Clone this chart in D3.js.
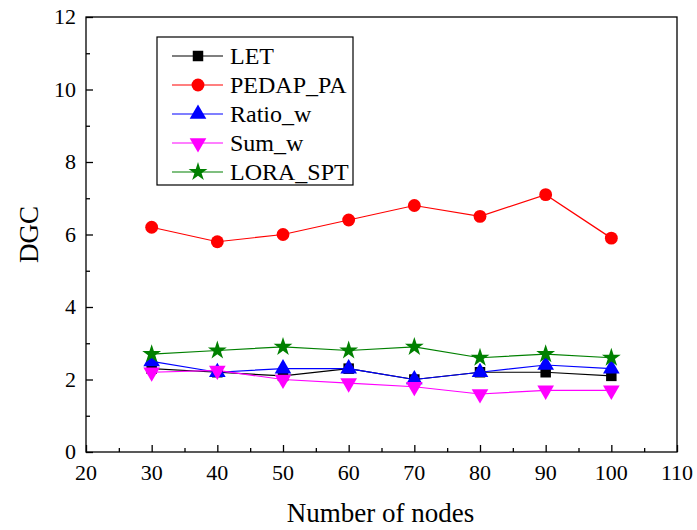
<!DOCTYPE html>
<html>
<head>
<meta charset="utf-8">
<script src="https://cdn.jsdelivr.net/npm/d3@7"></script>
<style>
body { margin: 0; background: #fff; }
text { font-family: "Liberation Serif", "Times New Roman", serif; fill: #000; }
</style>
</head>
<body>
<div id="chart"></div>
<script>
var nodes = [30, 40, 50, 60, 70, 80, 90, 100];
var LET = [2.3, 2.2, 2.1, 2.3, 2.0, 2.2, 2.2, 2.1];
var PEDAP_PA = [6.2, 5.8, 6.0, 6.4, 6.8, 6.5, 7.1, 5.9];
var Ratio_w = [2.5, 2.2, 2.3, 2.3, 2.0, 2.2, 2.4, 2.3];
var Sum_w = [2.2, 2.25, 2.0, 1.9, 1.8, 1.6, 1.7, 1.7];
var LORA_SPT = [2.7, 2.8, 2.9, 2.8, 2.9, 2.6, 2.7, 2.6];
var xTicks = [20, 30, 40, 50, 60, 70, 80, 90, 100, 110];
var yTicks = [0, 2, 4, 6, 8, 10, 12];

var series = [
  {name: "LET", values: LET, color: "#000000", marker: "square"},
  {name: "PEDAP_PA", values: PEDAP_PA, color: "#ff0000", marker: "circle"},
  {name: "Ratio_w", values: Ratio_w, color: "#0000ff", marker: "up"},
  {name: "Sum_w", values: Sum_w, color: "#ff00ff", marker: "down"},
  {name: "LORA_SPT", values: LORA_SPT, color: "#008000", marker: "star"}
];

var width = 697, height = 530;
var pLeft = 86, pRight = 677, pTop = 17, pBottom = 452;

var svg = d3.select("#chart").append("svg")
  .attr("width", width)
  .attr("height", height);

var x = d3.scaleLinear().domain([20, 110]).range([pLeft, pRight]);
var y = d3.scaleLinear().domain([0, 12]).range([pBottom, pTop]);

// frame
svg.append("rect")
  .attr("x", pLeft).attr("y", pTop)
  .attr("width", pRight - pLeft).attr("height", pBottom - pTop)
  .attr("fill", "none").attr("stroke", "#000").attr("stroke-width", 1.3);

// x axis, ticks pointing inside
var xAxis = d3.axisTop(x).tickValues(xTicks).tickSize(7).tickFormat("");
svg.append("g").attr("transform", "translate(0," + pBottom + ")").call(xAxis)
  .call(function(g) { g.select(".domain").remove(); g.selectAll("line").attr("stroke-width", 1.3); });
var xMinor = d3.axisTop(x).tickValues(d3.range(25, 110, 10)).tickSize(4).tickFormat("");
svg.append("g").attr("transform", "translate(0," + pBottom + ")").call(xMinor)
  .call(function(g) { g.select(".domain").remove(); g.selectAll("line").attr("stroke-width", 1.3); });

svg.selectAll(".xlab").data(xTicks).enter().append("text")
  .attr("x", function(d) { return x(d); })
  .attr("y", 480)
  .attr("text-anchor", "middle")
  .attr("font-size", "22px")
  .text(function(d) { return d; });

// y axis
var yAxis = d3.axisRight(y).tickValues(yTicks).tickSize(7).tickFormat("");
svg.append("g").attr("transform", "translate(" + pLeft + ",0)").call(yAxis)
  .call(function(g) { g.select(".domain").remove(); g.selectAll("line").attr("stroke-width", 1.3); });
var yMinor = d3.axisRight(y).tickValues(d3.range(1, 12, 2)).tickSize(4).tickFormat("");
svg.append("g").attr("transform", "translate(" + pLeft + ",0)").call(yMinor)
  .call(function(g) { g.select(".domain").remove(); g.selectAll("line").attr("stroke-width", 1.3); });

svg.selectAll(".ylab").data(yTicks).enter().append("text")
  .attr("x", 76)
  .attr("y", function(d) { return y(d) + 7; })
  .attr("text-anchor", "end")
  .attr("font-size", "22px")
  .text(function(d) { return d; });

svg.append("text")
  .attr("x", (pLeft + pRight) / 2 - 1)
  .attr("y", 522)
  .attr("text-anchor", "middle")
  .attr("font-size", "27px")
  .text("Number of nodes");

svg.append("text")
  .attr("transform", "translate(38," + ((pTop + pBottom) / 2) + ") rotate(-90)")
  .attr("text-anchor", "middle")
  .attr("font-size", "27px")
  .text("DGC");

function markerPath(type) {
  if (type === "square") return d3.symbol().type(d3.symbolSquare).size(110)();
  if (type === "circle") return d3.symbol().type(d3.symbolCircle).size(130)();
  if (type === "up") return d3.symbol().type(d3.symbolTriangle).size(120)();
  if (type === "down") return d3.symbol().type(d3.symbolTriangle).size(120)();
  return d3.symbol().type(d3.symbolStar).size(110)();
}

var line = d3.line()
  .x(function(d, i) { return x(nodes[i]); })
  .y(function(d) { return y(d); });

series.forEach(function(s) {
  svg.append("path")
    .datum(s.values)
    .attr("d", line)
    .attr("fill", "none")
    .attr("stroke", s.color)
    .attr("stroke-width", 1.2);
});

series.forEach(function(s) {
  svg.selectAll(".m-" + s.name).data(s.values).enter().append("path")
    .attr("d", markerPath(s.marker))
    .attr("transform", function(d, i) {
      return "translate(" + x(nodes[i]) + "," + y(d) + ")" + (s.marker === "down" ? " rotate(180)" : "");
    })
    .attr("fill", s.color);
});

// legend
var legend = svg.append("g");
legend.append("rect")
  .attr("x", 157).attr("y", 37)
  .attr("width", 196).attr("height", 148)
  .attr("fill", "#fff").attr("stroke", "#000").attr("stroke-width", 1.2);

series.forEach(function(s, i) {
  var ly = 56 + i * 29;
  legend.append("line")
    .attr("x1", 172).attr("x2", 223)
    .attr("y1", ly).attr("y2", ly)
    .attr("stroke", s.color).attr("stroke-width", 1.2);
  legend.append("path")
    .attr("d", markerPath(s.marker))
    .attr("transform", "translate(198," + ly + ")" + (s.marker === "down" ? " rotate(180)" : ""))
    .attr("fill", s.color);
  legend.append("text")
    .attr("x", 230)
    .attr("y", ly + 8)
    .attr("font-size", "24px")
    .text(s.name);
});
</script>
</body>
</html>
